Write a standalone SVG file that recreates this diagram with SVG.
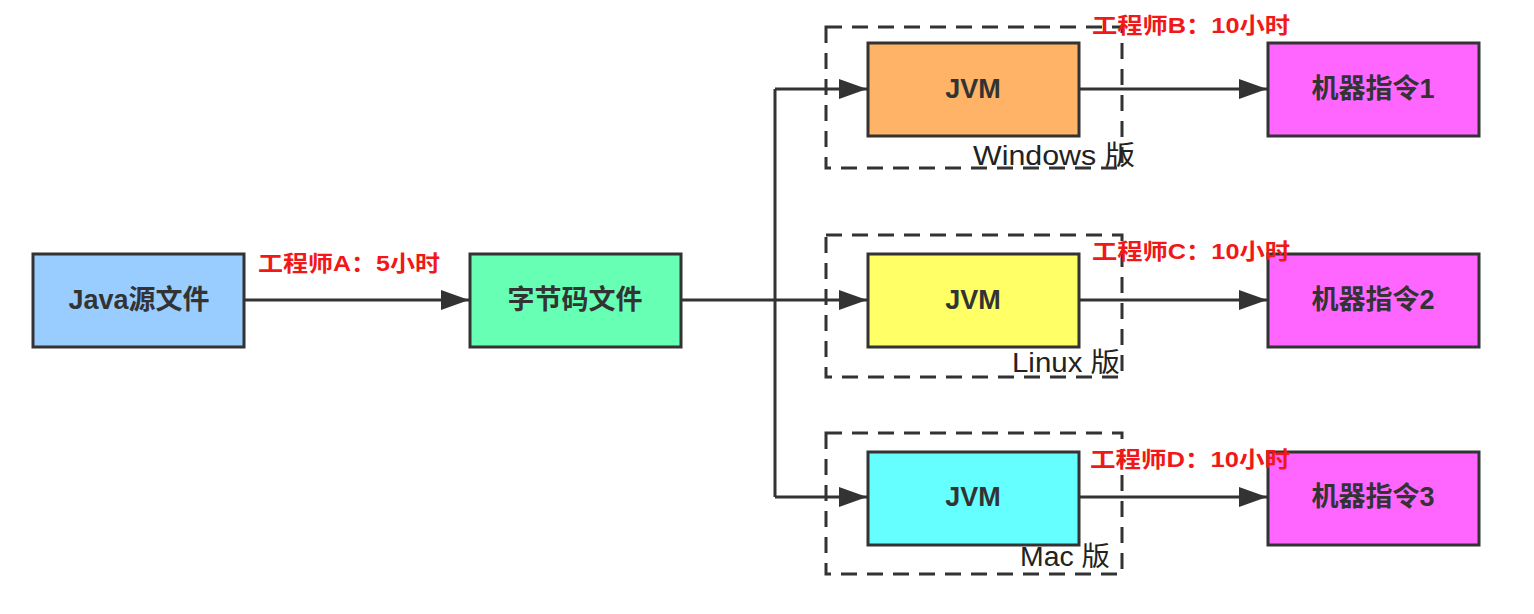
<svg xmlns="http://www.w3.org/2000/svg" width="1534" height="614" viewBox="0 0 1534 614">
<style>
.box{stroke:#333;stroke-width:3}
.t{font-family:"Liberation Sans","Noto Sans CJK SC",sans-serif;font-weight:bold;font-size:27px;fill:#333;text-anchor:middle;dominant-baseline:central}
.red{font-family:"Liberation Sans","Noto Sans CJK SC",sans-serif;font-weight:bold;font-size:22px;fill:#f01818}
.os{font-family:"Liberation Sans","Noto Sans CJK SC",sans-serif;font-size:27px;fill:#222}
.dash{fill:none;stroke:#333;stroke-width:3;stroke-dasharray:16 10}
.c{fill:none;stroke:#333;stroke-width:3}
</style>
<defs>
<marker id="a" viewBox="0 0 28 20" refX="28" refY="10" markerWidth="28" markerHeight="20" markerUnits="userSpaceOnUse" orient="auto">
<path d="M0,0 L28,10 L0,20 z" fill="#333"/>
</marker>
</defs>
<rect width="1534" height="614" fill="#fff"/>
<g id="groups">
<rect class="dash" x="826" y="27" width="296" height="141"/>
<rect class="dash" x="826" y="235" width="296" height="142"/>
<rect class="dash" x="826" y="433" width="296" height="141"/>
</g>
<g id="connectors">
<line class="c" x1="245" y1="300" x2="469" y2="300" marker-end="url(#a)"/>
<polyline class="c" points="681,300 775,300"/>
<polyline class="c" points="775,89 775,497"/>
<line class="c" x1="775" y1="89" x2="867" y2="89" marker-end="url(#a)"/>
<line class="c" x1="775" y1="300" x2="867" y2="300" marker-end="url(#a)"/>
<line class="c" x1="775" y1="497" x2="867" y2="497" marker-end="url(#a)"/>
<line class="c" x1="1079" y1="89" x2="1267" y2="89" marker-end="url(#a)"/>
<line class="c" x1="1079" y1="300" x2="1267" y2="300" marker-end="url(#a)"/>
<line class="c" x1="1079" y1="497" x2="1267" y2="497" marker-end="url(#a)"/>
</g>
<g id="java"><rect class="box" x="33" y="254" width="211" height="93" fill="#99ccff"/><text class="t" x="139" y="300">Java源文件</text></g>
<g id="bytecode"><rect class="box" x="470" y="254" width="211" height="93" fill="#66ffb3"/><text class="t" x="575" y="300">字节码文件</text></g>
<g id="jvm-win"><rect class="box" x="868" y="43" width="211" height="93" fill="#ffb366"/><text class="t" x="973" y="89">JVM</text></g>
<g id="jvm-linux"><rect class="box" x="868" y="254" width="211" height="93" fill="#ffff66"/><text class="t" x="973" y="300">JVM</text></g>
<g id="jvm-mac"><rect class="box" x="868" y="452" width="211" height="93" fill="#66ffff"/><text class="t" x="973" y="497">JVM</text></g>
<g id="m1"><rect class="box" x="1268" y="43" width="211" height="93" fill="#ff66ff"/><text class="t" x="1373" y="89">机器指令1</text></g>
<g id="m2"><rect class="box" x="1268" y="254" width="211" height="93" fill="#ff66ff"/><text class="t" x="1373" y="300">机器指令2</text></g>
<g id="m3"><rect class="box" x="1268" y="452" width="211" height="93" fill="#ff66ff"/><text class="t" x="1373" y="497">机器指令3</text></g>
<g id="labels">
<text class="red" x="258" y="271" textLength="182" lengthAdjust="spacingAndGlyphs">工程师A：5小时</text>
<text class="red" x="1092" y="33" textLength="198" lengthAdjust="spacingAndGlyphs">工程师B：10小时</text>
<text class="red" x="1092" y="259" textLength="198" lengthAdjust="spacingAndGlyphs">工程师C：10小时</text>
<text class="red" x="1090" y="467" textLength="200" lengthAdjust="spacingAndGlyphs">工程师D：10小时</text>
<text class="os" x="973" y="165" textLength="162" lengthAdjust="spacingAndGlyphs">Windows 版</text>
<text class="os" x="1012" y="372" textLength="108" lengthAdjust="spacingAndGlyphs">Linux 版</text>
<text class="os" x="1020" y="566" textLength="90" lengthAdjust="spacingAndGlyphs">Mac 版</text>
</g>
</svg>
